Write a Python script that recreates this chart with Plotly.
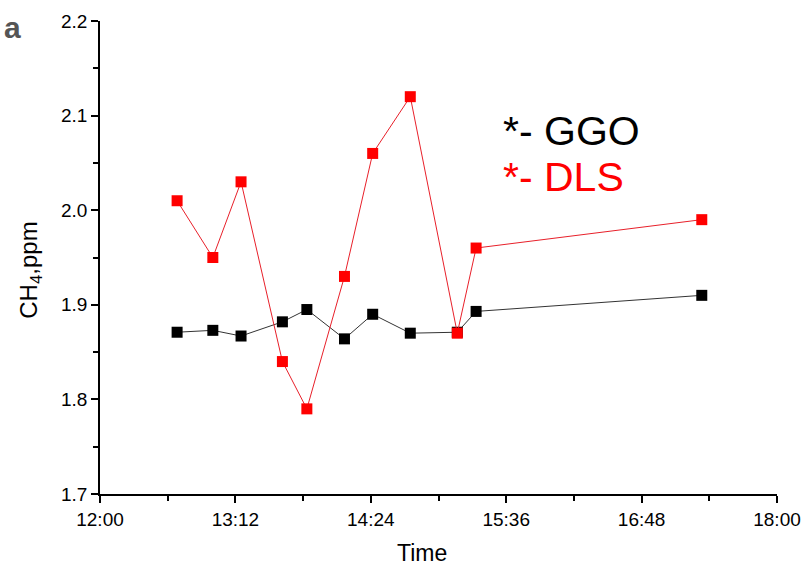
import plotly.graph_objects as go

day = "2020-01-01 "
times = ["12:41", "13:00", "13:15", "13:37", "13:50", "14:10", "14:25", "14:45", "15:10", "15:20", "17:20"]
ggo = [1.871, 1.873, 1.867, 1.882, 1.895, 1.864, 1.890, 1.870, 1.871, 1.893, 1.910]
dls = [2.01, 1.95, 2.03, 1.84, 1.79, 1.93, 2.06, 2.12, 1.87, 1.96, 1.99]

x = [day + t for t in times]
FONT = "Liberation Sans, Arial, sans-serif"

fig = go.Figure()
fig.add_trace(go.Scatter(x=x, y=ggo, mode="lines+markers", name="GGO",
                         line=dict(color="#333333", width=1),
                         marker=dict(symbol="square", size=11, color="black")))
fig.add_trace(go.Scatter(x=x, y=dls, mode="lines+markers", name="DLS",
                         line=dict(color="#e8202a", width=1),
                         marker=dict(symbol="square", size=11, color="red")))

fig.update_layout(
    width=805, height=563,
    margin=dict(l=100, r=28, t=21, b=69, autoexpand=False),
    paper_bgcolor="white", plot_bgcolor="white",
    showlegend=False,
    font=dict(family=FONT, color="black", size=18),
    xaxis=dict(
        type="date", automargin=False,
        range=[day + "12:00", day + "18:00"],
        tick0=day + "12:00", dtick=72 * 60000, tickformat="%H:%M",
        showline=True, linecolor="black", linewidth=1.5, mirror=False,
        showgrid=False, zeroline=False,
        ticks="outside", ticklen=7, tickwidth=1.5, tickcolor="black",
        tickfont=dict(size=19, family=FONT),
        minor=dict(dtick=36 * 60000, ticks="outside", ticklen=5, tickwidth=1.5,
                   tickcolor="black", showgrid=False),
    ),
    yaxis=dict(
        range=[1.7, 2.2], dtick=0.1, tick0=1.7, tickformat=".1f", automargin=False,
        showline=True, linecolor="black", linewidth=1.5, mirror=False,
        showgrid=False, zeroline=False,
        ticks="outside", ticklen=7, tickwidth=1.5, tickcolor="black",
        tickfont=dict(size=19, family=FONT),
        minor=dict(dtick=0.05, ticks="outside", ticklen=5, tickwidth=1.5,
                   tickcolor="black", showgrid=False),
    ),
)

fig.add_annotation(text="Time", xref="paper", yref="paper", x=0.476, y=-0.124,
                   showarrow=False, font=dict(size=23, family=FONT), xanchor="center", yanchor="middle")
fig.add_annotation(text="CH<sub>4</sub>,ppm", xref="paper", yref="paper", x=-0.102, y=0.474,
                   textangle=-90, showarrow=False, font=dict(size=24, family=FONT),
                   xanchor="center", yanchor="middle")
fig.add_annotation(text="*- GGO", xref="paper", yref="paper", x=(500 - 100) / 676, y=(494 - 131) / 473,
                   showarrow=False, font=dict(size=41, family=FONT, color="black"),
                   xanchor="left", yanchor="middle")
fig.add_annotation(text="*- DLS", xref="paper", yref="paper", x=(500 - 100) / 676, y=(494 - 177) / 473,
                   showarrow=False, font=dict(size=41, family=FONT, color="red"),
                   xanchor="left", yanchor="middle")
fig.add_annotation(text="<b>a</b>", xref="paper", yref="paper", x=(23 - 100) / 676, y=(494 - 27) / 473,
                   showarrow=False, font=dict(size=30, family=FONT, color="#555555"),
                   xanchor="right", yanchor="middle")

fig.write_html("out.html")
